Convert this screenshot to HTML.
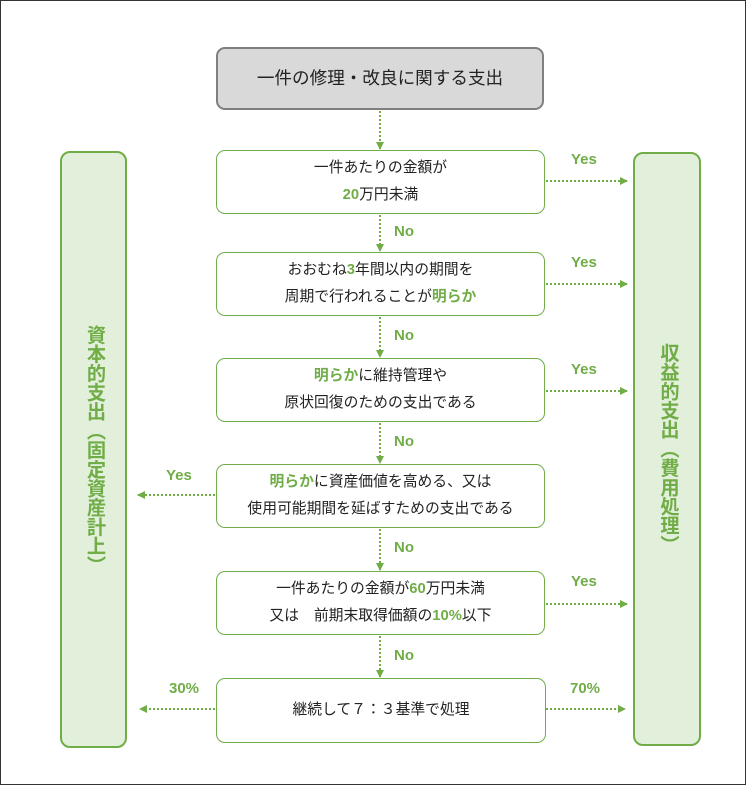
<!DOCTYPE html>
<html><head><meta charset="utf-8"><style>
body{margin:0;width:746px;height:785px;position:relative;background:#fff;font-family:"Liberation Sans","Noto Sans CJK JP",sans-serif;overflow:hidden}
.frame{position:absolute;left:0;top:0;width:744px;height:783px;border:1px solid #333}
.box{position:absolute;box-sizing:border-box;border:1.5px solid #70ad47;border-radius:9px;background:#fff;display:flex;flex-direction:column;justify-content:center;align-items:center;font-size:14.8px;color:#222;line-height:27px;text-align:center}
.g{color:#70ad47;font-weight:bold}
.side{position:absolute;box-sizing:border-box;border:2.5px solid #70ad47;border-radius:10px;background:#e2efda;display:flex;justify-content:center;align-items:center}
.vt{writing-mode:vertical-rl;color:#70ad47;font-weight:bold;font-size:19.2px}
.lab{position:absolute;color:#70ad47;font-weight:bold;font-size:15px}
</style></head><body>
<div class="frame"></div>
<div class="box" style="left:216px;top:47px;width:328px;height:63px;background:#d9d9d9;border:2px solid #7f7f7f;font-size:17.6px">一件の修理・改良に関する支出</div>
<div class="side" style="left:60px;top:151px;width:67px;height:597px"><span class="vt">資本的支出（固定資産計上）</span></div>
<div class="side" style="left:633px;top:152px;width:68px;height:594px"><span class="vt">収益的支出（費用処理）</span></div>
<div class="box" style="left:216px;top:150px;width:329px;height:64px"><div>一件あたりの金額が</div><div><span class="g">20</span>万円未満</div></div>
<div class="box" style="left:216px;top:252px;width:329px;height:64px"><div>おおむね<span class="g">3</span>年間以内の期間を</div><div>周期で行われることが<span class="g">明らか</span></div></div>
<div class="box" style="left:216px;top:358px;width:329px;height:64px"><div><span class="g">明らか</span>に維持管理や</div><div>原状回復のための支出である</div></div>
<div class="box" style="left:216px;top:464px;width:329px;height:64px"><div><span class="g">明らか</span>に資産価値を高める、又は</div><div>使用可能期間を延ばすための支出である</div></div>
<div class="box" style="left:216px;top:571px;width:329px;height:64px"><div>一件あたりの金額が<span class="g">60</span>万円未満</div><div>又は　前期末取得価額の<span class="g">10%</span>以下</div></div>
<div class="box" style="left:216px;top:678px;width:330px;height:65px">継続して７：３基準で処理</div>
<svg style="position:absolute;left:0;top:0" width="746" height="785">
<defs><marker id="a" markerWidth="8" markerHeight="8" refX="7" refY="4" orient="auto" markerUnits="userSpaceOnUse"><path d="M0,0 L8,4 L0,8z" fill="#70ad47"/></marker></defs>
<g stroke="#70ad47" stroke-width="2" stroke-dasharray="2,2" fill="none" marker-end="url(#a)">
<line x1="380" y1="111" x2="380" y2="149"/>
<line x1="380" y1="215" x2="380" y2="251"/>
<line x1="380" y1="317" x2="380" y2="357"/>
<line x1="380" y1="423" x2="380" y2="463"/>
<line x1="380" y1="529" x2="380" y2="570"/>
<line x1="380" y1="636" x2="380" y2="677"/>
<line x1="546" y1="181" x2="627" y2="181"/>
<line x1="546" y1="284" x2="627" y2="284"/>
<line x1="546" y1="391" x2="627" y2="391"/>
<line x1="546" y1="604" x2="627" y2="604"/>
<line x1="546" y1="709" x2="625" y2="709"/>
<line x1="215" y1="495" x2="138" y2="495"/>
<line x1="215" y1="709" x2="140" y2="709"/>
</g></svg>
<div class="lab" style="left:394px;top:223px">No</div>
<div class="lab" style="left:394px;top:327px">No</div>
<div class="lab" style="left:394px;top:433px">No</div>
<div class="lab" style="left:394px;top:539px">No</div>
<div class="lab" style="left:394px;top:647px">No</div>
<div class="lab" style="left:571px;top:151px">Yes</div>
<div class="lab" style="left:571px;top:254px">Yes</div>
<div class="lab" style="left:571px;top:361px">Yes</div>
<div class="lab" style="left:571px;top:573px">Yes</div>
<div class="lab" style="left:166px;top:467px">Yes</div>
<div class="lab" style="left:169px;top:680px">30%</div>
<div class="lab" style="left:570px;top:680px">70%</div>
</body></html>
